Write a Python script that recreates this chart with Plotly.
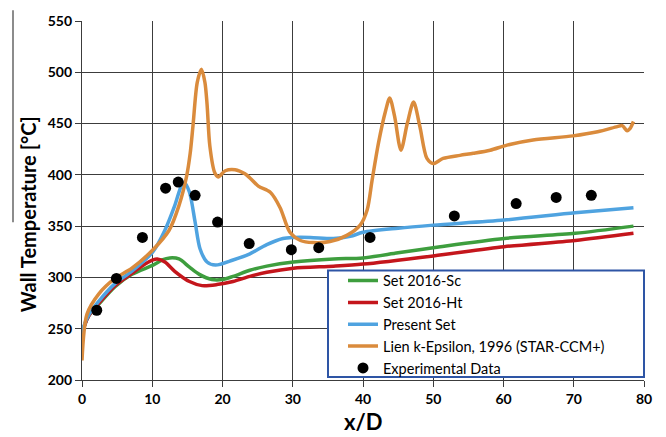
import plotly.graph_objects as go

# ---------------- data ----------------
sc_x = [0, 0.3, 1, 2.4, 4.7, 7.1, 10.1, 11.4, 12.5, 13.8, 15.3, 16.7, 18.5, 20, 21.5, 23.9, 26.3, 30.1, 35.8, 40, 45, 51, 60.1, 70.2, 78.5]
sc_y = [240, 252, 263, 274, 291, 303, 312, 317, 319, 318, 310, 303, 298, 298, 301, 307, 311, 315, 318, 319, 324, 330, 338, 343, 350]

ht_x = [0, 0.3, 1, 2.4, 4.7, 7.1, 8.5, 10.1, 10.7, 11.8, 13.2, 15.3, 17.1, 19.2, 21.5, 23.9, 26.3, 30.1, 35.8, 40, 50, 60.1, 70.2, 78.5]
ht_y = [240, 252, 263, 275, 292, 304, 311, 317, 318, 315, 306, 296, 292, 293, 296, 301, 305, 309, 311, 313, 321, 330, 336, 343]

ps_x = [0, 0.2, 1, 2.4, 4.7, 7.1, 10.1, 11.8, 13.2, 14.2, 14.6, 15.3, 16.1, 16.8, 17.8, 19.0, 21.5, 23.9, 26.3, 28.6, 30.1, 32.5, 35.8, 38.2, 40, 45, 50, 60.1, 70.2, 78.5]
ps_y = [240, 251, 264, 277, 294, 306, 325, 346, 370, 390, 392, 383, 354, 328, 315, 312, 317, 323, 332, 338, 339, 339, 338, 340, 344, 348, 351, 356, 363, 368]

lien_x = [0, 0.7, 2.4, 4.7, 7.1, 10.1, 12.4, 13.8, 14.9, 15.4, 15.8, 16.4, 17.0, 17.5, 17.8, 18.2, 18.9, 19.4, 20.4, 21.8, 23.2, 23.9, 25.1, 26.8, 28.2, 29.6, 31.1, 32.9, 35.3, 37.7, 39.6, 40.6, 41.3, 42.2, 43.2, 43.8, 44.5, 45.4, 46.3, 47.2, 48.1, 49.1, 50.0, 51.4, 53.8, 55.7, 58.1, 60.5, 64.2, 69.9, 73.4, 76.2, 76.9, 77.6, 78.0, 78.5]
lien_y = [219, 264, 284, 299, 309, 327, 346, 370, 399, 421, 448, 490, 503, 490, 469, 428, 402, 398, 404, 405, 401, 397, 389, 383, 368, 344, 336, 334, 335, 341, 351, 366, 395, 431, 462, 475, 457, 424, 450, 471, 447, 416, 411, 416, 419, 421, 424, 429, 434, 438, 442, 447, 448, 443, 445, 452]

exp_x = [2.1, 4.9, 8.6, 11.9, 13.7, 16.1, 19.3, 23.8, 29.8, 33.7, 41.0, 53.0, 61.8, 67.5, 72.5]
exp_y = [268, 299, 339, 387, 393, 380, 354, 333, 327, 329, 339, 360, 372, 378, 380]

x_ticks = [0, 10, 20, 30, 40, 50, 60, 70, 80]
y_ticks = [200, 250, 300, 350, 400, 450, 500, 550]

# ---------------- figure ----------------
fig = go.Figure()
line_w = 3.5
fig.add_trace(go.Scatter(x=sc_x, y=sc_y, mode="lines", name="Set 2016-Sc",
                         line=dict(color="#3E9E3E", width=line_w, shape="spline", smoothing=0.8)))
fig.add_trace(go.Scatter(x=ht_x, y=ht_y, mode="lines", name="Set 2016-Ht",
                         line=dict(color="#C4161C", width=line_w, shape="spline", smoothing=0.8)))
fig.add_trace(go.Scatter(x=ps_x, y=ps_y, mode="lines", name="Present Set",
                         line=dict(color="#4FA3E0", width=line_w, shape="spline", smoothing=0.8)))
fig.add_trace(go.Scatter(x=lien_x, y=lien_y, mode="lines", name="Lien k-Epsilon, 1996 (STAR-CCM+)",
                         line=dict(color="#DA8B3C", width=line_w, shape="spline", smoothing=0.8)))
fig.add_trace(go.Scatter(x=exp_x, y=exp_y, mode="markers", name="Experimental Data",
                         marker=dict(color="black", size=11)))

grid_c = "#3C3C3C"
axis_common = dict(showgrid=True, gridcolor=grid_c, gridwidth=1.3,
                   showline=True, linecolor=grid_c, linewidth=1.3,
                   ticks="outside", ticklen=6, tickcolor=grid_c, tickwidth=1.3,
                   tickfont=dict(family="Lato", size=14, color="black", weight="bold"),
                   zeroline=False)

fig.update_xaxes(range=[0, 80], tickvals=x_ticks, ticktext=[str(v) for v in x_ticks],
                 mirror=False, **axis_common)
fig.update_yaxes(range=[200, 550], tickvals=y_ticks, ticktext=[str(v) for v in y_ticks],
                 **axis_common)

L, R, T, B = 82, 22, 16, 57
W, H = 666, 437
pw, ph = W - L - R, H - T - B

def px2paper_x(px):
    return (px - L) / pw

def px2paper_y(py):
    return (H - B - py) / ph

fig.update_layout(
    width=W, height=H,
    margin=dict(l=L, r=R, t=T, b=B),
    plot_bgcolor="white", paper_bgcolor="white",
    showlegend=True,
    legend=dict(x=px2paper_x(343), y=px2paper_y(263), xanchor="left", yanchor="top",
                bgcolor="rgba(0,0,0,0)", borderwidth=0,
                font=dict(family="Lato", size=14.5, color="black"),
                tracegroupgap=0),
    shapes=[
        dict(type="rect", xref="paper", yref="paper",
             x0=px2paper_x(328), x1=1.0, y0=px2paper_y(377), y1=px2paper_y(269),
             line=dict(color="#2E55A5", width=2), fillcolor="white", layer="above"),
        dict(type="line", xref="paper", yref="paper",
             x0=px2paper_x(13), x1=px2paper_x(13), y0=px2paper_y(5), y1=px2paper_y(220),
             line=dict(color="#666666", width=1.5)),
    ],
    annotations=[
        dict(text="Wall Temperature [°C]", xref="paper", yref="paper",
             x=px2paper_x(28), y=px2paper_y(212), textangle=-90, showarrow=False,
             xanchor="center", yanchor="middle",
             font=dict(family="Lato", size=20, color="black", weight="bold")),
        dict(text="x/D", xref="paper", yref="paper",
             x=px2paper_x(363), y=px2paper_y(422), showarrow=False,
             xanchor="center", yanchor="middle",
             font=dict(family="Lato", size=22, color="black", weight="bold")),
    ],
)

fig.write_html("out.html", config={"displayModeBar": False},
               post_script="document.body.style.margin='0';document.body.style.padding='0';document.body.style.overflow='hidden';")
